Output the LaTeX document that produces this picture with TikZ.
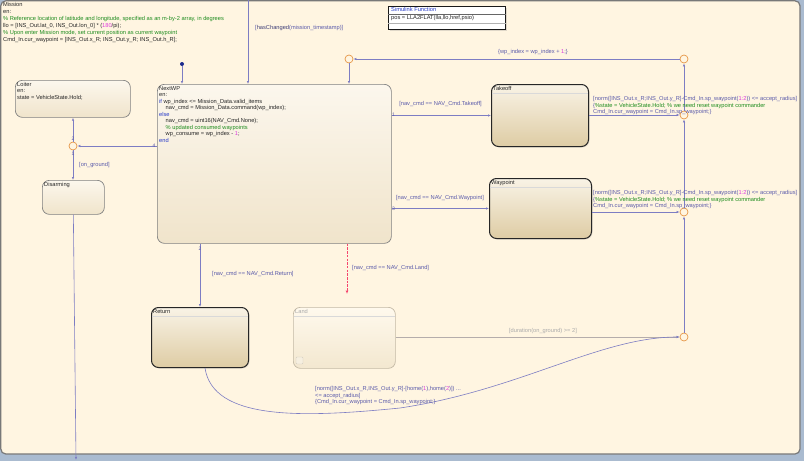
\documentclass[tikz,border=0pt]{standalone}
\usepackage{fontspec}
\setmainfont{Liberation Sans}
\usetikzlibrary{arrows.meta,shadows}
\definecolor{bgblue}{RGB}{170,187,208}
\definecolor{cream}{RGB}{255,245,225}
\definecolor{mborder}{RGB}{120,120,120}
\definecolor{trline}{RGB}{125,125,195}
\definecolor{trtext}{RGB}{90,90,170}
\definecolor{kwblue}{RGB}{40,60,200}
\definecolor{cmgreen}{RGB}{30,140,30}
\definecolor{nmmag}{RGB}{220,60,220}
\definecolor{juncor}{RGB}{230,150,70}
\definecolor{sttop}{RGB}{252,247,237}
\definecolor{stbot}{RGB}{240,228,203}
\definecolor{actop}{RGB}{249,243,230}
\definecolor{acbot}{RGB}{222,204,164}
\definecolor{ldborder}{RGB}{195,185,165}
\definecolor{ldtext}{RGB}{170,170,170}
\definecolor{redd}{RGB}{245,70,110}
\newcommand{\kw}[1]{\textcolor{kwblue}{#1}}
\newcommand{\cm}[1]{\textcolor{cmgreen}{#1}}
\newcommand{\nm}[1]{\textcolor{nmmag}{#1}}
\begin{document}
\begin{tikzpicture}[x=1pt,y=-1pt,
  txt/.style={anchor=north west,inner sep=0pt,align=left,font=\fontsize{5.7}{6.6}\selectfont,text=black!85},
  lbl/.style={inner sep=0pt,align=left,font=\fontsize{5.7}{6.4}\selectfont,text=trtext},
  num/.style={inner sep=0pt,font=\fontsize{5}{6}\selectfont,text=trtext},
  stbox/.style={anchor=north west,inner sep=0pt,rounded corners=7pt,draw=black!50,line width=0.7pt,top color=sttop,bottom color=stbot},
  acbox/.style={anchor=north west,inner sep=0pt,rounded corners=7pt,draw=black!85,line width=1pt,top color=actop,bottom color=acbot,drop shadow={opacity=0.2,shadow xshift=1pt,shadow yshift=-1pt}},
  junc/.style={circle,draw=juncor,fill=cream,line width=0.7pt,minimum size=8pt,inner sep=0pt},
  tr/.style={draw=trline,line width=0.6pt,-{Latex[length=3pt,width=2.4pt]}},
  sepline/.style={draw=black!15,line width=0.5pt}]
\useasboundingbox (0,0) rectangle (804,461);
\fill[bgblue] (0,0) rectangle (804,461);
\draw[fill=cream,draw=mborder,line width=1.2pt,rounded corners=5pt] (0.8,0.8) rectangle (800,454);
% Mission text
\node[txt,font=\fontsize{5.7}{7}\selectfont] (mtext) at (3,2.5) {Mission\\en:\\\cm{\% Reference location of latitude and longitude, specified as an m-by-2 array, in degrees}\\llo = [INS\_Out.lat\_0, INS\_Out.lon\_0] * (\nm{180}/pi);\\\cm{\% Upon enter Mission mode, set current position as current waypoint}\\Cmd\_In.cur\_waypoint = [INS\_Out.x\_R; INS\_Out.y\_R; INS\_Out.h\_R];};
% Simulink function
\node[anchor=north west,draw=black!90,line width=1pt,fill=white,minimum width=117pt,minimum height=23pt,inner sep=0pt,drop shadow={opacity=0.25,shadow xshift=1pt,shadow yshift=-1pt}] (slf) at (388,6) {};
\node[txt,text=kwblue] (slft) at (391,7.5) {Simulink Function};
\draw[black!60,line width=0.5pt] ([yshift=-8pt]slf.north west) -- ([yshift=-8pt]slf.north east);
\node[txt] (slfb) at (391,15) {pos = LLA2FLAT(lla,llo,href,psio)};
\draw[black!30,line width=0.5pt] ([yshift=-17pt]slf.north west) -- ([yshift=-17pt]slf.north east);
% states
\node[stbox,minimum width=115pt,minimum height=37pt] (loiter) at (15,80) {};
\node[txt] (loitert) at (17,82) {Loiter\\en:\\state = VehicleState.Hold;};
\node[stbox,minimum width=62pt,minimum height=34pt] (disarm) at (42,180) {};
\node[txt] (disarmt) at (44,182) {Disarming};
\node[stbox,minimum width=234pt,minimum height=159pt] (nextwp) at (157,84) {};
\node[txt,font=\fontsize{5.7}{6.5}\selectfont] (nextwpt) at (159,86) {NextWP\\en:\\\kw{if} wp\_index <= Mission\_Data.valid\_items\\\hspace*{6.5pt}nav\_cmd = Mission\_Data.command(wp\_index);\\\kw{else}\\\hspace*{6.5pt}nav\_cmd = uint16(NAV\_Cmd.None);\\\hspace*{6.5pt}\cm{\% updated consumed waypoints}\\\hspace*{6.5pt}wp\_consume = wp\_index - \nm{1};\\\kw{end}};
\node[acbox,minimum width=97pt,minimum height=62pt] (takeoff) at (491,84) {};
\node[txt] (takeofft) at (493,86) {Takeoff};
\draw[sepline] ([yshift=-9pt,xshift=1pt]takeoff.north west) -- ([yshift=-9pt,xshift=-1pt]takeoff.north east);
\node[acbox,minimum width=102pt,minimum height=60pt] (waypoint) at (489,178) {};
\node[txt] (waypointt) at (491,180) {Waypoint};
\draw[sepline] ([yshift=-9pt,xshift=1pt]waypoint.north west) -- ([yshift=-9pt,xshift=-1pt]waypoint.north east);
\node[acbox,minimum width=97pt,minimum height=60pt] (return) at (151,307) {};
\node[txt] (returnt) at (153,309) {Return};
\draw[sepline] ([yshift=-9pt,xshift=1pt]return.north west) -- ([yshift=-9pt,xshift=-1pt]return.north east);
\node[anchor=north west,inner sep=0pt,rounded corners=7pt,draw=ldborder,line width=0.7pt,top color=cream!60!white,bottom color=stbot!80!cream,minimum width=102pt,minimum height=61pt] (land) at (293,307) {};
\node[txt,text=ldtext] (landt) at (295,309) {Land};
\draw[sepline] ([yshift=-9pt,xshift=1pt]land.north west) -- ([yshift=-9pt,xshift=-1pt]land.north east);
\draw[draw=ldborder!70,fill=stbot!60!white,line width=0.4pt,rounded corners=1pt] (296,357) rectangle (303,364);
% junctions
\node[junc] (j1) at (73,146) {};
\node[junc] (jtl) at (349,59) {};
\node[junc] (jtr) at (684,59) {};
\node[junc] (jt) at (684,115) {};
\node[junc] (jw) at (684,212) {};
\node[junc] (jl) at (684,337) {};
\node[circle,fill=kwblue!70!black,inner sep=0pt,minimum size=4pt] (dot) at (182,64) {};
\coordinate (topin) at (248,0);
\coordinate (exitd) at (76,460);
\coordinate (landend) at (347,294);
% transitions
\draw[tr] (dot) -- (dot |- nextwp.north);
\draw[tr,line width=0.9pt] (topin) -- (topin |- nextwp.north);
\node[lbl,anchor=west] (lhas) at (255,28) {[\textcolor{trtext!70!black}{hasChanged}(mission\_timestamp)]};
\draw[tr] (j1) -- (j1 |- loiter.south);
\draw[tr] (nextwp.west |- j1) -- (j1);
\draw[tr] (j1) -- (j1 |- disarm.north);
\draw[tr] (disarm.south) -- (exitd);
\node[num] (n2l) at (73,139) {2};
\node[num] (n1l) at (73,153.5) {1};
\node[num,anchor=east] (n4) at (155.5,146) {4};
\node[lbl,anchor=west] (lground) at (79,165) {[on\_ground]};
\draw[tr] (jtr) -- (jtl);
\node[lbl] (lwp) at (533,52.5) {\{wp\_index = wp\_index + \nm{1};\}};
\draw[tr] (jtl) -- (jtl |- nextwp.north);
\draw[tr] (jt) -- (jtr);
\draw[tr] (jw) -- (jt);
\draw[tr] (jl) -- (jw);
\draw[tr] (takeoff.east |- jt) -- (jt);
\draw[tr] (waypoint.east |- jw) -- (jw);
\draw[tr] (nextwp.east |- takeoff.west) -- (takeoff.west);
\draw[tr] (nextwp.east |- waypoint.west) -- (waypoint.west);
\node[num,anchor=west] (n1r) at (392,114.5) {1};
\node[num,anchor=west] (n3r) at (392,208.5) {3};
\node[lbl] (ltake) at (440.5,104) {[nav\_cmd == NAV\_Cmd.Takeoff]};
\node[lbl] (lway) at (440,198.5) {[nav\_cmd == NAV\_Cmd.Waypoint]};
\node[lbl,anchor=north west] (ltk2) at (593,96.5) {[norm([INS\_Out.x\_R;INS\_Out.y\_R]-Cmd\_In.sp\_waypoint(\nm{1:2})) <= accept\_radius]\\\{\cm{\%state = VehicleState.Hold; \% we need reset waypoint commander}\\Cmd\_In.cur\_waypoint = Cmd\_In.sp\_waypoint;\}};
\node[lbl,anchor=north west] (lwp2) at (593,190.5) {[norm([INS\_Out.x\_R;INS\_Out.y\_R]-Cmd\_In.sp\_waypoint(\nm{1:2})) <= accept\_radius]\\\{\cm{\%state = VehicleState.Hold; \% we need reset waypoint commander}\\Cmd\_In.cur\_waypoint = Cmd\_In.sp\_waypoint;\}};
\draw[tr] (return.north |- nextwp.south) -- (return.north);
\node[num] (n2b) at (200,249) {2};
\node[lbl,anchor=west] (lret) at (212,274) {[nav\_cmd == NAV\_Cmd.Return]};
\draw[color=redd,line width=0.9pt,dash pattern=on 2.5pt off 1.2pt,-{Latex[open,fill=cream,length=3.5pt,width=3pt]}] (landend |- nextwp.south) -- (landend);
\node[lbl,anchor=west] (lland) at (352,268) {[nav\_cmd == NAV\_Cmd.Land]};
\draw[draw=ldborder!80!trline,line width=0.5pt,-{Latex[length=3pt,width=2.4pt]}] (land.east |- jl) -- (jl);
\node[lbl,text=ldtext] (ldur) at (543,331) {[duration(on\_ground) >= 2]};
\draw[tr] ([xshift=5pt]return.south) .. controls (213,420) and (300,418) .. (400,408) .. controls (520,390) and (600,337) .. (jl.west);
\node[lbl,anchor=north west] (lhome) at (315,386.5) {[norm([INS\_Out.x\_R,INS\_Out.y\_R]-[home(\nm{1}),home(\nm{2})]) ...\\<= accept\_radius]\\\{Cmd\_In.cur\_waypoint = Cmd\_In.sp\_waypoint;\}};
\end{tikzpicture}
\end{document}
